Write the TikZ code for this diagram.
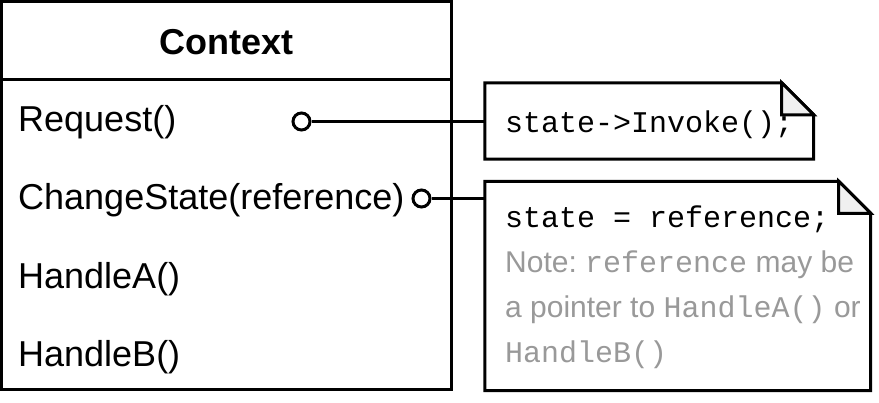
\documentclass[tikz,border=0pt]{standalone}
\usepackage{xcolor}
\usepackage{fontspec}
\setmainfont{Liberation Sans}
\newfontfamily\codefont{Liberation Mono}
\usetikzlibrary{positioning, calc}
\frenchspacing
\definecolor{notegray}{HTML}{999999}
\definecolor{foldgray}{HTML}{F0F0F0}
\tikzset{
    classbox/.style={
        rectangle, draw=black, fill=white,
        minimum width=450pt, minimum height=388pt,
        inner sep=0pt,
        line width=3pt,
    },
    classname/.style={
        font=\fontsize{36}{43}\selectfont\bfseries,
        inner sep=0pt, anchor=base,
    },
    op/.style={
        font=\fontsize{36}{43}\selectfont,
        inner sep=0pt, anchor=base west,
    },
    port/.style={
        circle, draw=black, fill=white,
        minimum size=17pt, inner sep=0pt,
        line width=3pt,
    },
    notebox/.style={
        rectangle, inner sep=0pt,
    },
    notetext/.style={
        font=\fontsize{30}{45}\selectfont,
        inner sep=0pt, anchor=base west,
    },
    link/.style={
        line width=3pt, draw=black,
    },
}

\begin{document}
\begin{tikzpicture}[x=1pt, y=-1pt]

    \useasboundingbox (0,0) rectangle (879,402);

    % ── Context class ──
    \node[classbox] (ctx) at (226.5, 195.5) {};
    \node[classname] (title) at (226.5, 54) {Context};
    \draw[link] (ctx.west |- 0,79) -- (ctx.east |- 0,79);

    % ── Operations ──
    \node[op] (req)  at (18, 131) {Request()};
    \node[op] (chg)  at (18, 209) {ChangeState(reference)};
    \node[op] (hdla) at (18, 288) {HandleA()};
    \node[op] (hdlb) at (18, 366) {HandleB()};

    % ── Notes ──
    \node[notebox, minimum width=328.5pt, minimum height=76pt]  (invnote) at (649.25, 121) {};
    \node[notebox, minimum width=385.5pt, minimum height=209pt] (refnote) at (677.75, 286) {};

    \foreach \n in {invnote, refnote} {
        \draw[link, fill=white, line join=miter]
            (\n.north west) -- ([xshift=-32pt]\n.north east)
            -- ([yshift=-32pt]\n.north east) -- (\n.south east)
            -- (\n.south west) -- cycle;
        \draw[link, fill=foldgray, line join=miter]
            ([xshift=-32pt]\n.north east) -- ([xshift=-32pt, yshift=-32pt]\n.north east)
            -- ([yshift=-32pt]\n.north east) -- cycle;
    }

    \node[notetext] (invcode) at (505, 132) {\codefont state->Invoke();};

    \node[notetext] (refcode) at (505, 227) {\codefont state = reference;};
    \node[notetext, text=notegray] (refnoteA) at (505, 272) {Note: {\codefont reference} may be};
    \node[notetext, text=notegray] (refnoteB) at (505, 317) {a pointer to {\codefont HandleA()} or};
    \node[notetext, text=notegray] (refnoteC) at (505, 362) {{\codefont HandleB()}};

    % ── Ports and links ──
    \node[port] (reqport) at (301.5, 121.5) {};
    \node[port] (chgport) at (421.5, 198.5) {};

    \draw[link] (reqport) -- (reqport -| invnote.west);
    \draw[link] (chgport) -- (chgport -| refnote.west);

\end{tikzpicture}
\end{document}
